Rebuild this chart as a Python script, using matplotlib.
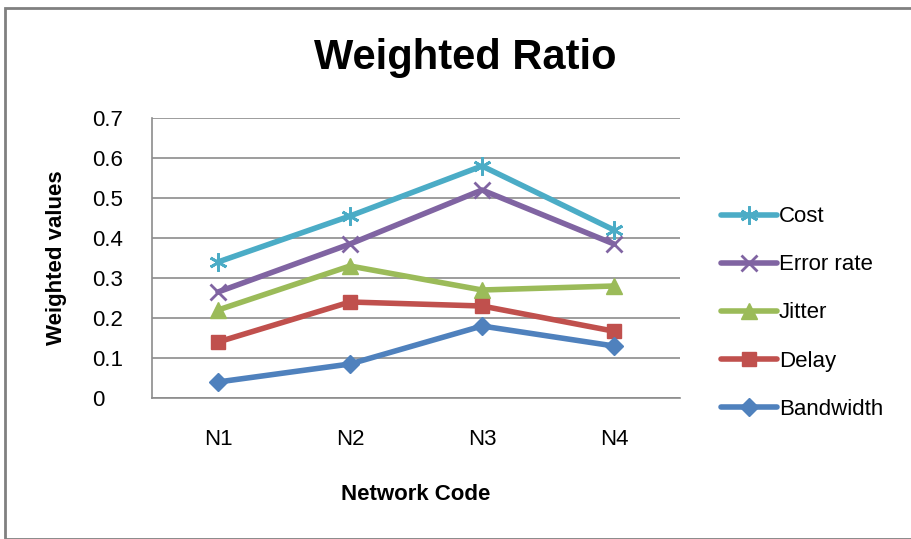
import matplotlib
matplotlib.use('Agg')
import matplotlib.pyplot as plt
from matplotlib.patches import Rectangle

# Data
networks = ['N1', 'N2', 'N3', 'N4']
cost = [0.34, 0.455, 0.58, 0.42]
error_rate = [0.265, 0.385, 0.52, 0.385]
jitter = [0.22, 0.33, 0.27, 0.28]
delay = [0.14, 0.24, 0.23, 0.167]
bandwidth = [0.04, 0.085, 0.18, 0.13]

plt.rcParams['font.family'] = ['Liberation Sans', 'DejaVu Sans']

fig = plt.figure(figsize=(9.11, 5.39), dpi=100)
ax = fig.add_axes([152 / 911, 1 - 398 / 539, 528 / 911, 280 / 539])

x = range(len(networks))
series = [
    ('Cost', cost, '#4BACC6', (6, 2, 0), 13),
    ('Error rate', error_rate, '#8064A2', 'x', 11),
    ('Jitter', jitter, '#9BBB59', '^', 11),
    ('Delay', delay, '#C0504D', 's', 10),
    ('Bandwidth', bandwidth, '#4F81BD', 'D', 9),
]
for name, vals, color, marker, ms in series:
    ax.plot(x, vals, color=color, lw=4, marker=marker, markersize=ms,
            markeredgewidth=2 if marker in ('x', (6, 2, 0)) else 1,
            markeredgecolor=color, label=name, solid_capstyle='round')

ax.set_xlim(-0.5, 3.5)
ax.set_ylim(0, 0.7)
ax.set_yticks([0, 0.1, 0.2, 0.3, 0.4, 0.5, 0.6, 0.7])
ax.set_yticklabels(['0', '0.1', '0.2', '0.3', '0.4', '0.5', '0.6', '0.7'])
ax.set_xticks(list(x))
ax.set_xticklabels(networks)
ax.tick_params(axis='both', labelsize=16, length=0)
ax.tick_params(axis='x', pad=22)
# left-aligned y tick labels starting around x=95
ax.tick_params(axis='y', pad=43)
for t in ax.get_yticklabels():
    t.set_horizontalalignment('left')
ax.grid(axis='y', color='#8c8c8c', lw=1.2)
ax.set_axisbelow(True)
for s in ['top', 'right']:
    ax.spines[s].set_visible(False)
ax.spines['left'].set_color('#8c8c8c')
ax.spines['bottom'].set_color('#8c8c8c')
ax.spines['left'].set_linewidth(1.2)
ax.spines['bottom'].set_linewidth(1.2)

ax.set_xlabel('Network Code', fontsize=16, fontweight='bold', labelpad=25)
ax.set_ylabel('Weighted values', fontsize=16, fontweight='bold', labelpad=18)
fig.text(465 / 911, 1 - 58 / 539, 'Weighted Ratio', fontsize=30, fontweight='bold',
         ha='center', va='center')

handles, labels = ax.get_legend_handles_labels()
leg = fig.legend(handles, labels, loc='center left', bbox_to_anchor=(701 / 911, 1 - 313 / 539),
                 frameon=False, fontsize=16, handlelength=2.5, handletextpad=0.1,
                 labelspacing=1.22)

# outer chart border
fig.patches.append(Rectangle((5 / 911, 0), 1.0, 1 - 8 / 539, transform=fig.transFigure,
                             fill=False, edgecolor='#808080', lw=2))

fig.savefig('out.png', dpi=100)
